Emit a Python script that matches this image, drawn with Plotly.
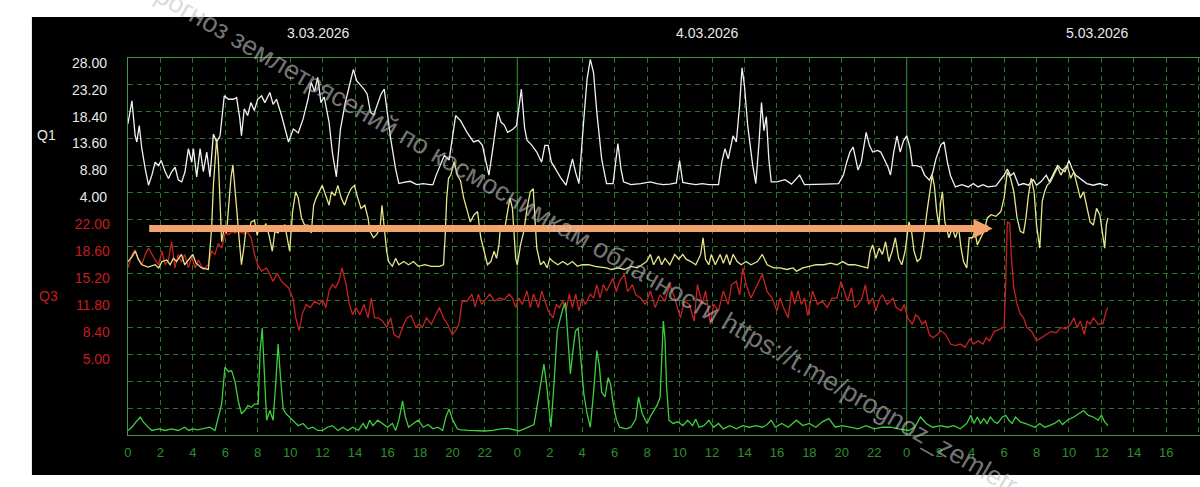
import plotly.graph_objects as go

# ---------------- data (hours since 3.03.2026 00:00) ----------------
white_t = [0.0, 0.25, 0.45, 0.55, 0.7, 0.86, 1.07, 1.27, 1.48, 1.68, 1.89, 2.05, 2.3, 2.5, 2.7, 2.91, 3.11, 3.32,
           3.52, 3.73, 3.93, 4.04, 4.24, 4.45, 4.65, 4.86, 5.06, 5.27, 5.47, 5.68, 5.94, 6.2, 6.5, 6.7, 6.9, 7.0,
           7.17, 7.38, 7.58, 7.79, 8.0, 8.24, 8.44, 8.75, 8.95, 9.16, 9.47, 9.7, 9.9, 10.2, 10.5, 10.8, 11.1, 11.3,
           11.5, 11.7, 11.9, 12.1, 12.4, 12.6, 12.85, 13.1, 13.4, 13.65, 13.9, 14.1, 14.55, 14.75, 14.95, 15.15,
           15.4, 15.6, 15.8, 16.0, 16.2, 16.5, 16.7, 17.0, 17.4, 17.8, 18.2, 18.6, 18.8, 19.0, 19.3, 19.5, 19.8,
           20.2, 20.5, 20.9, 21.3, 21.6, 21.85, 22.05, 22.25, 22.5, 22.8, 23.0, 23.2, 23.4, 23.7, 23.95, 24.1,
           24.25, 24.45, 24.6, 24.9, 25.2, 25.5, 25.7, 25.9, 26.1, 26.4, 26.7, 27.0, 27.2, 27.4, 27.6, 27.8, 28.1,
           28.3, 28.5, 28.7, 28.9, 29.2, 29.5, 29.9, 30.2, 30.4, 30.55, 31.0, 31.6, 32.2, 32.6, 33.0, 33.4, 33.8,
           34.0, 34.2, 34.6, 35.0, 35.4, 35.8, 36.4, 36.6, 36.8, 37.0, 37.3, 37.5, 37.7, 37.85, 38.0, 38.2, 38.5,
           38.7, 38.9, 39.05, 39.2, 39.35, 39.5, 39.65, 40.0, 40.5, 40.9, 41.4, 41.7, 42.2, 43.0, 43.8, 44.1, 44.3,
           44.5, 44.7, 45.0, 45.2, 45.5, 45.7, 45.9, 46.2, 46.4, 46.6, 46.85, 47.0, 47.2, 47.4, 47.6, 47.8, 48.0,
           48.2, 48.35, 48.6, 48.9, 49.1, 49.4, 49.6, 49.8, 50.1, 50.3, 50.5, 50.7, 51.0, 51.4, 51.8, 52.1, 52.4,
           52.7, 53.0, 53.5, 54.0, 54.2, 54.4, 54.6, 54.9, 55.2, 55.5, 55.8, 56.0, 56.3, 56.6, 56.8, 57.1, 57.3,
           57.5, 57.75, 58.0, 58.2, 58.4, 58.7, 59.1, 59.5, 59.9, 60.2, 60.4]
white_v = [16.2, 20.3, 14.1, 13.0, 15.9, 11.8, 8.2, 5.3, 7.1, 9.4, 8.8, 9.7, 7.7, 6.5, 7.7, 8.5, 6.2, 5.9,
           7.7, 11.8, 9.4, 11.8, 6.8, 11.8, 7.7, 11.2, 6.8, 14.4, 13.0, 14.1, 21.2, 20.6, 20.6, 20.9, 17.1, 14.1,
           18.9, 17.7, 20.0, 18.6, 20.6, 21.2, 20.0, 21.8, 19.7, 20.6, 17.7, 15.3, 13.0, 15.3, 14.6, 17.1, 20.6, 23.6,
           22.0, 24.5, 20.0, 21.0, 16.5, 11.2, 6.8, 15.3, 20.0, 23.0, 25.9, 23.9, 22.4, 21.5, 18.3, 17.8,
           20.0, 21.5, 22.4, 18.0, 13.5, 8.2, 5.6, 5.8, 6.0, 5.4, 5.6, 5.4, 5.4, 7.1, 9.4, 10.6, 9.8,
           17.7, 16.8, 14.7, 13.0, 13.3, 12.4, 9.4, 7.1, 12.0, 18.3, 16.5, 16.0, 14.7, 15.2, 15.9, 19.5,
           22.4, 15.5, 13.3, 12.4, 11.2, 9.4, 12.4, 12.4, 9.4, 8.0, 6.5, 5.3, 7.5, 10.0, 7.5, 5.6, 17.1,
           24.2, 27.7, 25.3, 18.3, 10.0, 5.6, 5.6, 12.7, 8.0, 5.9, 5.4, 5.6, 5.9, 5.6, 5.4, 5.5, 5.7,
           9.7, 5.8, 5.6, 5.4, 5.6, 5.4, 5.4, 9.4, 11.8, 10.0, 14.1, 13.0, 19.5, 26.2, 23.0, 15.9, 9.0,
           5.6, 13.0, 20.0, 15.0, 17.5, 10.0, 5.9, 5.9, 6.3, 5.5, 7.1, 5.4, 5.4, 5.5, 5.6, 7.1, 9.4,
           11.2, 12.1, 8.0, 9.4, 14.7, 12.4, 11.2, 11.5, 11.2, 10.0, 8.5, 7.1, 11.2, 14.1, 11.2, 13.2, 14.1,
           12.0, 8.8, 8.8, 8.5, 7.1, 6.2, 7.5, 10.0, 12.5, 13.0, 9.5, 7.0, 5.0, 5.4, 5.0, 5.6, 5.0,
           5.4, 5.0, 5.2, 7.1, 8.2, 7.0, 7.5, 5.3, 5.6, 5.3, 6.3, 5.3, 6.0, 7.1, 5.9, 7.7, 8.8,
           8.2, 7.7, 9.7, 8.2, 7.1, 6.5, 5.6, 5.3, 5.6, 5.3, 5.4]

red_t = [0.0, 0.25, 0.45, 0.65, 0.86, 1.07, 1.27, 1.48, 1.68, 1.89, 2.1, 2.3, 2.5, 2.7, 2.9, 3.1, 3.3, 3.5,
         3.73, 3.93, 4.14, 4.34, 4.65, 4.95, 5.16, 5.37, 5.57, 5.78, 6.0, 6.2, 6.4, 6.6, 6.8, 7.1, 7.4, 7.6,
         7.8, 8.0, 8.24, 8.55, 8.75, 8.95, 9.2, 9.47, 9.67, 9.9, 10.17, 10.35, 10.55, 10.75, 10.99, 11.25, 11.5,
         11.8, 12.0, 12.2, 12.4, 12.6, 12.8, 13.0, 13.2, 13.45, 13.65, 13.85, 14.05, 14.3, 14.55, 14.8, 15.0,
         15.2, 15.45, 15.7, 15.95, 16.2, 16.4, 16.7, 17.0, 17.2, 17.45, 17.75, 17.95, 18.15, 18.4, 18.7, 19.0,
         19.2, 19.45, 19.7, 20.0, 20.2, 20.4, 20.6, 20.9, 21.2, 21.4, 21.6, 21.8, 22.1, 22.3, 22.6, 22.9, 23.2,
         23.5, 23.7, 23.9, 24.1, 24.3, 24.6, 24.8, 25.0, 25.3, 25.5, 25.7, 25.9, 26.2, 26.4, 26.6, 26.8, 27.0,
         27.2, 27.4, 27.6, 27.8, 28.0, 28.2, 28.5, 28.7, 28.9, 29.1, 29.3, 29.5, 29.7, 29.9, 30.1, 30.3, 30.6,
         30.8, 31.1, 31.3, 31.6, 31.9, 32.2, 32.5, 32.8, 33.1, 33.4, 33.7, 34.05, 34.3, 34.6, 34.9, 35.1, 35.4,
         35.6, 35.9, 36.1, 36.4, 36.7, 37.0, 37.2, 37.5, 37.7, 37.9, 38.1, 38.4, 38.8, 39.1, 39.4, 39.7, 40.0,
         40.2, 40.4, 40.7, 40.9, 41.1, 41.3, 41.5, 41.7, 41.9, 42.2, 42.5, 42.8, 43.1, 43.4, 43.7, 43.95, 44.15,
         44.35, 44.6, 44.8, 45.0, 45.25, 45.45, 45.65, 45.9, 46.1, 46.35, 46.5, 46.8, 47.15, 47.35, 47.65, 47.85,
         48.05, 48.35, 48.55, 48.75, 48.95, 49.15, 49.4, 49.6, 49.9, 50.1, 50.4, 50.7, 51.0, 51.3, 51.6, 51.9,
         52.1, 52.4, 52.7, 52.9, 53.1, 53.4, 53.8, 54.0, 54.1, 54.2, 54.35, 54.45, 54.6, 54.8, 55.0, 55.2, 55.4,
         55.7, 56.0, 56.3, 56.6, 56.9, 57.2, 57.5, 57.8, 58.1, 58.3, 58.5, 58.7, 58.95, 59.1, 59.3, 59.5, 59.8,
         60.1, 60.3, 60.4]
red_v = [15.9, 17.6, 18.2, 16.9, 16.3, 17.6, 18.4, 17.6, 16.9, 16.3, 18.0, 16.3, 16.9, 19.2, 15.9, 17.6, 16.6, 17.6,
         15.9, 17.3, 15.9, 16.9, 15.7, 16.3, 18.0, 17.6, 19.0, 18.4, 20.3, 20.1, 20.5, 20.3, 20.5, 20.3, 20.3, 19.7,
         17.6, 16.3, 15.5, 15.9, 15.1, 14.2, 15.2, 14.2, 13.8, 13.4, 12.1, 9.6, 8.0, 10.1, 11.3, 10.9, 11.7,
         11.3, 11.9, 10.9, 13.0, 13.8, 13.4, 14.2, 15.9, 13.8, 11.3, 10.0, 10.9, 10.0, 11.3, 9.6, 12.1,
         9.6, 9.6, 9.2, 8.4, 9.6, 7.5, 7.1, 8.8, 9.6, 9.9, 8.4, 8.8, 8.4, 9.6, 8.8, 10.1,
         10.9, 9.6, 8.8, 7.5, 8.0, 8.8, 11.7, 11.7, 12.6, 11.0, 12.6, 11.3, 12.1, 12.6, 11.7, 12.1, 11.9,
         12.6, 12.1, 10.9, 12.1, 11.3, 13.0, 10.9, 12.6, 10.9, 13.0, 11.7, 10.5, 9.6, 11.3, 10.9, 11.7, 10.5,
         12.6, 10.9, 12.6, 10.5, 12.1, 11.3, 12.6, 12.1, 13.8, 12.1, 13.8, 13.0, 13.8, 14.6, 12.9, 14.2, 15.1,
         12.9, 13.8, 12.5, 12.1, 11.3, 13.0, 10.9, 12.5, 11.7, 13.8, 12.1, 9.6, 11.7, 11.3, 9.2, 13.8, 11.3,
         13.0, 8.8, 11.3, 10.5, 13.0, 11.3, 13.8, 14.2, 12.5, 15.9, 13.8, 12.1, 13.8, 15.1, 12.9, 12.1, 10.5,
         12.1, 10.9, 9.6, 13.0, 11.3, 13.0, 11.3, 12.1, 9.9, 13.0, 11.3, 11.7, 10.9, 12.1, 12.1, 14.2, 13.0,
         11.7, 13.4, 10.9, 11.3, 12.1, 13.8, 11.3, 12.1, 10.5, 12.1, 12.5, 11.3, 12.1, 10.9, 10.5, 11.3,
         9.6, 8.8, 10.0, 9.6, 8.8, 9.2, 7.5, 7.1, 7.5, 8.0, 7.5, 6.3, 6.1, 6.3, 5.9, 7.0,
         6.3, 6.7, 6.3, 7.1, 6.7, 7.9, 8.2, 8.4, 13.8, 21.7, 21.5, 17.2, 13.4, 11.3, 10.1, 9.6, 8.4,
         7.9, 6.7, 7.1, 7.5, 7.9, 7.7, 8.4, 8.2, 8.8, 9.6, 8.4, 9.2, 7.5, 9.2, 8.8, 9.6, 8.8,
         8.9, 10.5, 10.9]

yellow_t = [0.0, 0.25, 0.45, 0.65, 0.86, 1.25, 1.68, 1.9, 2.1, 2.4, 2.6, 2.8, 3.0, 3.3, 3.5, 3.8, 4.0, 4.2,
            4.55, 4.96, 5.06, 5.16, 5.27, 5.37, 5.47, 5.57, 5.68, 5.78, 5.94, 6.08, 6.2, 6.35, 6.47, 6.6, 6.72,
            6.85, 7.0, 7.17, 7.3, 7.45, 7.6, 7.8, 7.97, 8.1, 8.3, 8.5, 8.7, 8.9, 9.06, 9.26, 9.47, 9.67, 9.8,
            9.97, 10.15, 10.34, 10.5, 10.7, 10.89, 11.1, 11.3, 11.45, 11.6, 11.8, 11.98, 12.2, 12.4, 12.55,
            12.75, 12.94, 13.15, 13.35, 13.55, 13.76, 13.96, 14.17, 14.37, 14.6, 14.8, 14.92, 15.13, 15.33,
            15.54, 15.66, 15.8, 15.95, 16.07, 16.3, 16.5, 16.7, 17.0, 17.3, 17.6, 17.9, 18.3, 18.7, 19.2,
            19.45, 19.55, 19.65, 19.76, 19.9, 20.1, 20.3, 20.5, 20.7, 20.93, 21.1, 21.34, 21.55, 21.75, 21.95,
            22.16, 22.37, 22.57, 22.72, 22.87, 22.97, 23.2, 23.4, 23.55, 23.7, 23.8, 23.9, 24.0, 24.2, 24.4,
            24.6, 24.8, 24.98, 25.1, 25.2, 25.43, 25.63, 25.84, 26.0, 26.2, 26.5, 26.8, 27.1, 27.4, 27.7,
            28.0, 28.4, 28.8, 29.1, 29.5, 29.8, 30.2, 30.6, 31.0, 31.4, 31.7, 31.97, 32.2, 32.4, 32.7, 32.9,
            33.1, 33.4, 33.7, 33.95, 34.2, 34.4, 34.7, 35.0, 35.3, 35.45, 35.6, 35.8, 35.96, 36.2, 36.5, 36.7,
            36.9, 37.1, 37.3, 37.55, 37.8, 38.1, 38.4, 38.8, 39.1, 39.4, 39.8, 40.2, 40.6, 41.0, 41.2, 41.6,
            42.0, 42.4, 42.9, 43.3, 43.7, 44.05, 44.4, 44.8, 45.2, 45.6, 45.75, 45.9, 46.1, 46.3, 46.5, 46.7,
            46.9, 47.1, 47.3, 47.5, 47.7, 47.9, 48.14, 48.3, 48.45, 48.65, 48.85, 49.05, 49.25, 49.4, 49.57,
            49.7, 49.85, 49.98, 50.1, 50.2, 50.35, 50.6, 50.8, 51.0, 51.2, 51.35, 51.5, 51.7, 51.85, 52.05,
            52.2, 52.35, 52.55, 52.75, 52.97, 53.2, 53.5, 53.8, 54.0, 54.2, 54.4, 54.6, 54.8, 55.0, 55.2,
            55.35, 55.5, 55.67, 55.85, 56.0, 56.2, 56.35, 56.5, 56.65, 56.85, 57.05, 57.3, 57.5, 57.7, 57.9,
            58.1, 58.3, 58.5, 58.7, 58.9, 59.1, 59.3, 59.5, 59.7, 59.9, 60.1, 60.2, 60.3, 60.4]
yellow_v = [16.7, 17.3, 18.0, 17.0, 16.3, 16.0, 16.3, 15.9, 16.7, 16.9, 16.3, 17.1, 16.7, 17.6, 16.3, 17.1, 17.6, 16.5,
            15.9, 15.7, 18.0, 20.9, 26.3, 29.3, 32.2, 29.7, 23.4, 19.2, 20.9, 20.3, 23.4, 27.2, 28.9, 26.3, 23.0,
            19.7, 16.3, 18.8, 21.3, 20.5, 21.7, 21.9, 20.0, 21.3, 20.5, 21.5, 20.0, 18.0, 20.5, 20.3, 21.1, 21.3, 19.7,
            18.0, 23.0, 25.5, 24.7, 22.2, 21.3, 21.3, 20.3, 23.8, 24.7, 25.5, 26.3, 25.0, 23.8, 25.5,
            25.0, 26.3, 24.7, 23.8, 25.0, 25.9, 26.3, 24.7, 23.4, 23.8, 22.2, 20.5, 19.7, 20.1,
            20.9, 23.8, 20.9, 18.0, 16.7, 16.1, 17.1, 16.3, 16.7, 16.3, 16.7, 16.1, 16.3, 16.1, 16.1,
            16.3, 19.7, 24.7, 27.2, 27.6, 29.3, 27.6, 26.9, 24.7, 23.0, 21.7, 22.6, 23.0, 19.7, 18.0,
            16.3, 16.7, 18.0, 17.1, 18.8, 21.3, 20.5, 23.0, 24.7, 23.4, 20.5, 17.1, 16.3, 18.8, 20.5,
            23.4, 25.5, 25.9, 21.7, 18.4, 16.3, 16.7, 15.9, 17.1, 16.7, 16.3, 16.7, 16.3, 16.7, 16.1,
            16.3, 16.3, 16.1, 16.0, 15.9, 15.7, 15.9, 15.7, 16.1, 15.9, 16.3, 16.7, 17.6, 16.3, 17.4, 16.3,
            17.1, 16.3, 17.6, 17.0, 17.6, 17.0, 16.7, 16.3, 17.6, 19.7, 17.0, 16.3, 17.6, 16.3, 17.6, 16.5,
            17.6, 16.3, 17.6, 16.7, 16.3, 16.7, 16.3, 16.7, 17.6, 16.3, 15.9, 15.9, 15.7, 15.9, 15.5, 15.9,
            16.1, 16.3, 16.3, 16.5, 16.3, 16.7, 16.3, 16.3, 16.1, 15.9, 18.0, 18.8, 17.1, 18.4, 17.6, 19.2,
            16.7, 18.0, 19.7, 17.1, 16.3, 18.0, 21.7, 20.5, 18.0, 16.7, 17.1, 19.7, 23.0, 25.5, 27.6,
            26.3, 23.0, 21.3, 24.3, 25.5, 21.7, 19.7, 20.9, 19.7, 20.9, 18.4, 16.7, 15.9, 19.7, 19.7,
            20.5, 18.8, 19.7, 20.5, 22.2, 22.6, 22.4, 23.0, 24.7, 28.0, 27.2, 25.5, 22.2, 20.5, 20.3,
            22.2, 25.0, 27.2, 25.5, 21.3, 18.4, 24.3, 25.5, 26.3, 26.7, 27.6, 28.6, 27.6, 28.4, 28.8,
            27.2, 28.0, 26.3, 24.7, 25.5, 23.8, 21.7, 21.3, 23.4, 22.6, 20.1, 18.4, 21.3, 22.2]

green_t = [0.0, 0.25, 0.5, 0.76, 0.95, 1.15, 1.48, 1.9, 2.3, 2.7, 3.1, 3.5, 3.75, 4.0, 4.3, 4.7, 5.05, 5.37,
           5.57, 5.78, 5.98, 6.2, 6.39, 6.6, 6.8, 7.0, 7.2, 7.4, 7.62, 7.8, 8.03, 8.15, 8.28, 8.4, 8.55, 8.75,
           8.95, 9.1, 9.26, 9.4, 9.57, 9.75, 9.97, 10.2, 10.5, 10.8, 11.1, 11.4, 11.7, 12.0, 12.3, 12.6, 12.95,
           13.25, 13.55, 13.85, 14.2, 14.5, 14.7, 14.9, 15.1, 15.4, 15.7, 16.0, 16.3, 16.5, 16.7, 16.93, 17.1,
           17.3, 17.6, 17.9, 18.2, 18.5, 18.8, 19.1, 19.4, 19.6, 19.8, 20.0, 20.3, 20.5, 21.0, 21.5, 22.0, 22.5,
           23.0, 23.4, 23.7, 24.1, 24.5, 25.03, 25.24, 25.45, 25.64, 25.8, 25.96, 26.07, 26.25, 26.46, 26.66,
           26.82, 26.97, 27.1, 27.27, 27.4, 27.58, 27.75, 27.9, 28.1, 28.3, 28.5, 28.7, 28.9, 29.05, 29.2, 29.4,
           29.6, 29.75, 29.9, 30.1, 30.3, 30.7, 31.0, 31.3, 31.47, 31.7, 32.0, 32.2, 32.4, 32.6, 32.8, 32.9,
           33.0, 33.1, 33.2, 33.35, 33.6, 33.9, 34.2, 34.5, 34.8, 35.0, 35.2, 35.5, 35.8, 36.1, 36.4, 36.7,
           37.1, 37.5, 37.9, 38.3, 38.7, 39.1, 39.4, 39.65, 39.9, 40.3, 40.7, 41.2, 41.6, 42.0, 42.4, 42.8,
           43.2, 43.6, 44.0, 44.5, 45.0, 45.5, 46.0, 46.5, 47.0, 47.5, 48.1, 48.5, 48.85, 49.2, 49.6, 50.1,
           50.5, 50.9, 51.3, 51.7, 51.95, 52.15, 52.35, 52.55, 52.75, 52.95, 53.15, 53.4, 53.6, 53.9, 54.1,
           54.3, 54.5, 54.7, 55.0, 55.3, 55.6, 55.9, 56.2, 56.5, 56.8, 57.1, 57.4, 57.6, 57.9, 58.3, 58.9,
           59.2, 59.5, 59.8, 60.0, 60.2, 60.4]
green_v = [0.9, 1.5, 2.5, 3.4, 2.5, 1.8, 0.9, 1.2, 0.9, 1.2, 0.9, 1.5, 0.9, 1.2, 1.0, 1.2, 1.5, 0.9,
           3.4, 5.8, 12.6, 11.8, 12.0, 10.0, 6.4, 4.0, 4.6, 5.5, 5.2, 5.8, 5.8, 15.7, 19.9, 13.0, 2.8, 4.6,
           2.8, 9.0, 16.9, 11.0, 4.9, 4.0, 3.4, 2.8, 1.8, 2.2, 1.2, 1.5, 0.9, 0.9, 1.5, 1.8, 0.9,
           1.5, 0.9, 1.5, 0.9, 2.2, 1.2, 2.8, 1.8, 2.8, 2.2, 1.5, 2.2, 0.9, 2.8, 6.4, 3.4,
           1.5, 2.2, 2.8, 1.5, 2.0, 1.2, 1.5, 0.9, 3.4, 4.9, 3.0, 1.2, 1.0, 0.9, 0.8, 0.8, 0.9,
           1.2, 1.3, 1.1, 0.8, 1.3, 2.0, 5.8, 9.5, 13.2, 9.5, 4.5, 1.5, 9.0, 19.3, 21.8,
           23.6, 24.6, 18.0, 11.4, 15.0, 19.3, 19.9, 14.0, 7.7, 4.0, 1.5, 8.0, 15.7, 13.0, 8.0, 7.1,
           10.7, 9.5, 6.0, 3.0, 1.5, 1.2, 1.5, 3.0, 7.1, 4.0, 2.2, 3.5, 4.5, 5.5, 7.0, 13.2,
           21.2, 18.0, 9.0, 2.8, 2.2, 2.5, 1.8, 2.8, 1.8, 3.0, 1.5, 1.8, 2.8, 1.5, 2.2, 1.2,
           1.8, 1.2, 1.8, 1.5, 1.8, 1.5, 2.0, 2.8, 1.5, 2.2, 1.5, 2.8, 1.8, 2.2, 1.5, 2.5,
           3.1, 1.5, 1.8, 1.5, 1.2, 1.8, 1.2, 1.5, 1.5, 1.2, 0.9, 1.5, 3.4, 2.2, 1.5, 1.8,
           1.5, 1.8, 1.2, 2.2, 3.7, 2.2, 3.4, 2.2, 3.1, 2.2, 3.4, 2.5, 2.2, 3.4, 3.7,
           2.8, 2.2, 3.4, 2.5, 2.2, 1.8, 1.5, 2.2, 1.5, 1.8, 2.2, 2.8, 2.0, 2.8, 3.4, 4.6,
           3.7, 3.4, 2.8, 3.7, 2.5, 1.8]

hour_ticks = [0, 2, 4, 6, 8, 10, 12, 14, 16, 18, 20, 22, 24, 26, 28, 30, 32, 34, 36, 38, 40, 42, 44, 46,
              48, 50, 52, 54, 56, 58, 60, 62, 64, 66]
hour_labels = ["0", "2", "4", "6", "8", "10", "12", "14", "16", "18", "20", "22",
               "0", "2", "4", "6", "8", "10", "12", "14", "16", "18", "20", "22",
               "0", "2", "4", "6", "8", "10", "12", "14", "16", "18"]
day_starts = [24, 48]
date_pos = [11.7, 35.7, 59.7]
date_labels = ["3.03.2026", "4.03.2026", "5.03.2026"]
q1_ticks = [4.0, 8.8, 13.6, 18.4, 23.2, 28.0]
q3_ticks = [5.0, 8.4, 11.8, 15.2, 18.6, 22.0]

# ---------------- layout helpers (pixel -> paper) ----------------
W, H = 1200, 487
def PX(x):
    return x / W
def PY(y):
    return 1 - y / H

PLOT_L, PLOT_T, PLOT_B = 124.3, 55, 435
PX_PER_H = 16.28
x_max = (W - PLOT_L) / PX_PER_H

GRID = "#2b722b"
AXLINE = "#3d9a3d"
FONT = "Liberation Sans, Arial, sans-serif"

fig = go.Figure()
fig.add_trace(go.Scatter(x=green_t, y=green_v, yaxis="y4", mode="lines",
                         line=dict(color="#3fcf3f", width=1.3), hoverinfo="skip"))
fig.add_trace(go.Scatter(x=red_t, y=red_v, yaxis="y2", mode="lines",
                         line=dict(color="#c82222", width=1.3), hoverinfo="skip"))
fig.add_trace(go.Scatter(x=yellow_t, y=yellow_v, yaxis="y3", mode="lines",
                         line=dict(color="#e6e68a", width=1.3), hoverinfo="skip"))
fig.add_trace(go.Scatter(x=white_t, y=white_v, yaxis="y", mode="lines",
                         line=dict(color="#f2f2f2", width=1.3), hoverinfo="skip"))

ydom = [PY(PLOT_B), PY(PLOT_T)]

fig.update_layout(
    width=W, height=H, autosize=False,
    margin=dict(l=0, r=0, t=0, b=0, pad=0),
    paper_bgcolor="white", plot_bgcolor="black",
    showlegend=False,
    font=dict(family=FONT),
    xaxis=dict(domain=[PX(PLOT_L), 1], range=[0, x_max], tickmode="array",
               tickvals=hour_ticks, ticktext=hour_labels,
               tickfont=dict(color="#2f8f2f", size=13, family=FONT),
               showgrid=True, gridcolor=GRID, griddash="5px,4px", gridwidth=1,
               showline=True, linecolor=AXLINE, linewidth=1, mirror=True,
               zeroline=False, ticks="", ticklabelstandoff=5, fixedrange=True),
    yaxis=dict(domain=ydom, range=[-39.2, 28.0], tickmode="array", tickvals=q1_ticks,
               ticktext=["%.2f" % v for v in q1_ticks],
               tickfont=dict(color="#e8e8e8", size=14, family=FONT),
               showgrid=False, zeroline=False, showline=True, linecolor=AXLINE,
               ticks="", ticklabelstandoff=17, ticklabelshift=5, anchor="x"),
    yaxis2=dict(overlaying="y", side="left", range=[-5.2, 42.4], tickmode="array",
                tickvals=q3_ticks, ticktext=["%.2f" % v for v in q3_ticks],
                tickfont=dict(color="#c41e1e", size=14, family=FONT),
                showgrid=False, zeroline=False, showline=False, ticks="",
                ticklabelstandoff=17, ticklabelshift=5, anchor="x"),
    yaxis3=dict(overlaying="y", range=[-5.2, 42.4], visible=False, anchor="x"),
    yaxis4=dict(overlaying="y", range=[0, 70], tick0=0, dtick=5, showticklabels=False,
                showgrid=True, gridcolor=GRID, griddash="5px,4px", gridwidth=1,
                zeroline=False, showline=False, ticks="", anchor="x"),
)

shapes = [dict(type="rect", xref="paper", yref="paper", x0=PX(28), x1=1, y0=PY(475), y1=PY(14),
               fillcolor="black", line=dict(width=0), layer="below")]
for d in day_starts:
    shapes.append(dict(type="line", xref="x", yref="paper", x0=d, x1=d, y0=ydom[0], y1=ydom[1],
                       line=dict(color=AXLINE, width=1), layer="between"))
fig.update_layout(shapes=shapes)

ann = []
for xp, lab in zip(date_pos, date_labels):
    ann.append(dict(x=xp, y=PY(30), xref="x", yref="paper", text=lab, showarrow=False,
                    font=dict(color="#e8e8e8", size=14, family=FONT), xanchor="center", yanchor="middle"))
ann.append(dict(x=PX(43), y=PY(133), xref="paper", yref="paper", text="Q1", showarrow=False,
                font=dict(color="#e8e8e8", size=14, family=FONT), xanchor="center", yanchor="middle"))
ann.append(dict(x=PX(45), y=PY(295), xref="paper", yref="paper", text="Q3", showarrow=False,
                font=dict(color="#c41e1e", size=14, family=FONT), xanchor="center", yanchor="middle"))
# orange arrow
ann.append(dict(x=PX(992), y=PY(227), xref="paper", yref="paper", ax=-(992 - 147), ay=0,
                axref="pixel", ayref="pixel", text="", showarrow=True, arrowhead=2,
                arrowwidth=7, arrowsize=0.55, arrowcolor="#f3a46c", standoff=0))
# watermark
ann.append(dict(x=PX(576), y=PY(233), xref="paper", yref="paper",
                text="Прогноз землетрясений по космоснимкам облачности https://t.me/prognoz_zemletr",
                showarrow=False, textangle=30,
                font=dict(color="rgba(195,195,195,0.62)", size=26.5, family=FONT),
                xanchor="center", yanchor="middle"))
fig.update_layout(annotations=ann)

POST = ("document.documentElement.style.margin='0px';document.body.style.margin='0px';"
        "document.documentElement.style.overflow='hidden';document.body.style.overflow='hidden';"
        "var gd=document.getElementsByClassName('plotly-graph-div')[0];"
        "gd.style.position='fixed';gd.style.left='0px';gd.style.top='0px';")
fig.write_html("out.html", config={"displayModeBar": False}, post_script=POST)
